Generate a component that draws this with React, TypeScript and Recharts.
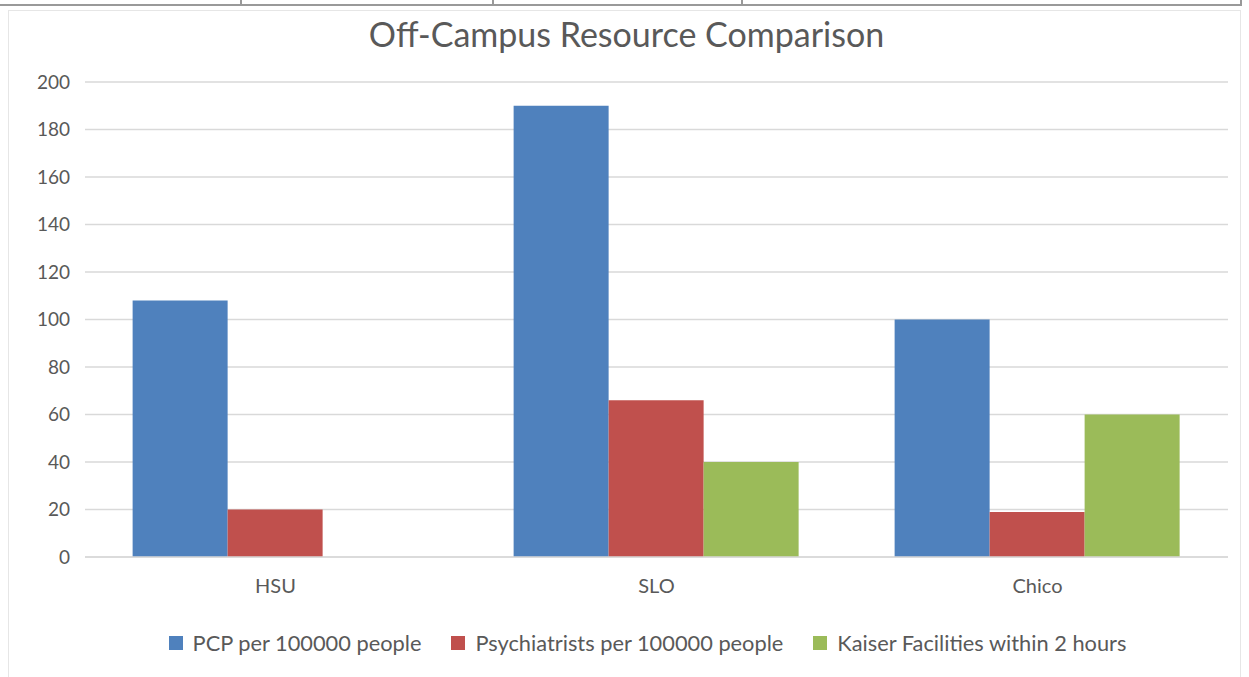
import React from 'react';
import { BarChart, Bar, XAxis, YAxis, CartesianGrid, Legend } from 'recharts';

const categories = ['HSU', 'SLO', 'Chico'];
const pcp = [108, 190, 100];
const psych = [20, 66, 19];
const kaiser = [0, 40, 60];
const yTicks = [0, 20, 40, 60, 80, 100, 120, 140, 160, 180, 200];

const seriesNames = ['PCP per 100000 people', 'Psychiatrists per 100000 people', 'Kaiser Facilities within 2 hours'];
const colors = ['#4f81bd', '#c0504d', '#9bbb59'];

const data = categories.map((c, i) => ({ name: c, pcp: pcp[i], psych: psych[i], kaiser: kaiser[i] }));

const FONT = 'Lato, "Open Sans", sans-serif';
const TEXT = '#595959';

const LegendContent = () => (
  <div style={{ display: 'flex', justifyContent: 'center', fontFamily: FONT, fontSize: 21.8, color: TEXT, paddingTop: 15, paddingLeft: 52 }}>
    {seriesNames.map((n, i) => (
      <div key={n} style={{ display: 'flex', alignItems: 'center', marginRight: i < 2 ? 30 : 0 }}>
        <div style={{ width: 14, height: 14, background: colors[i], marginRight: 10 }} />
        <span>{n}</span>
      </div>
    ))}
  </div>
);

export default function App() {
  return (
    <div style={{ position: 'absolute', left: 0, top: 0, width: 1249, height: 677, background: '#fff', overflow: 'hidden' }}>
      {/* chart frame */}
      <div style={{ position: 'absolute', left: 8, top: 10, width: 1231, height: 680, border: '1px solid #e6e6e6', borderBottom: 'none' }} />
      <div style={{ position: 'absolute', left: 0, top: 13, width: 1249, textAlign: 'center', fontFamily: FONT, fontSize: 34, color: TEXT, paddingLeft: 2 }}>
        Off-Campus Resource Comparison
      </div>
      <div style={{ position: 'absolute', left: 0, top: 0 }}>
        <BarChart
          width={1249}
          height={677}
          data={data}
          margin={{ top: 82, right: 21, left: 15, bottom: 8 }}
          barCategoryGap="12.5%"
          barGap={0}
        >
          <CartesianGrid vertical={false} stroke="#d9d9d9" strokeWidth={1.5} />
          <XAxis
            dataKey="name"
            axisLine={{ stroke: '#d9d9d9', strokeWidth: 1.5 }}
            tickLine={false}
            tickSize={0}
            tickMargin={22}
            height={57}
            tick={{ fill: TEXT, fontSize: 20, fontFamily: FONT }}
          />
          <YAxis
            domain={[0, 200]}
            ticks={yTicks}
            interval={0}
            axisLine={false}
            tickLine={false}
            tickSize={0}
            tickMargin={15}
            width={70}
            tick={{ fill: TEXT, fontSize: 19, fontFamily: FONT }}
          />
          <Legend verticalAlign="bottom" height={55} content={<LegendContent />} />
          <Bar dataKey="pcp" name={seriesNames[0]} fill={colors[0]} isAnimationActive={false} />
          <Bar dataKey="psych" name={seriesNames[1]} fill={colors[1]} isAnimationActive={false} />
          <Bar dataKey="kaiser" name={seriesNames[2]} fill={colors[2]} isAnimationActive={false} />
        </BarChart>
      </div>
      {/* table row above */}
      <div style={{ position: 'absolute', left: 0, top: 4, width: 1242, height: 2, background: '#999' }} />
      {[240, 492, 741, 1240].map((x) => (
        <div key={x} style={{ position: 'absolute', left: x, top: 0, width: 2, height: 5, background: '#999' }} />
      ))}
    </div>
  );
}
